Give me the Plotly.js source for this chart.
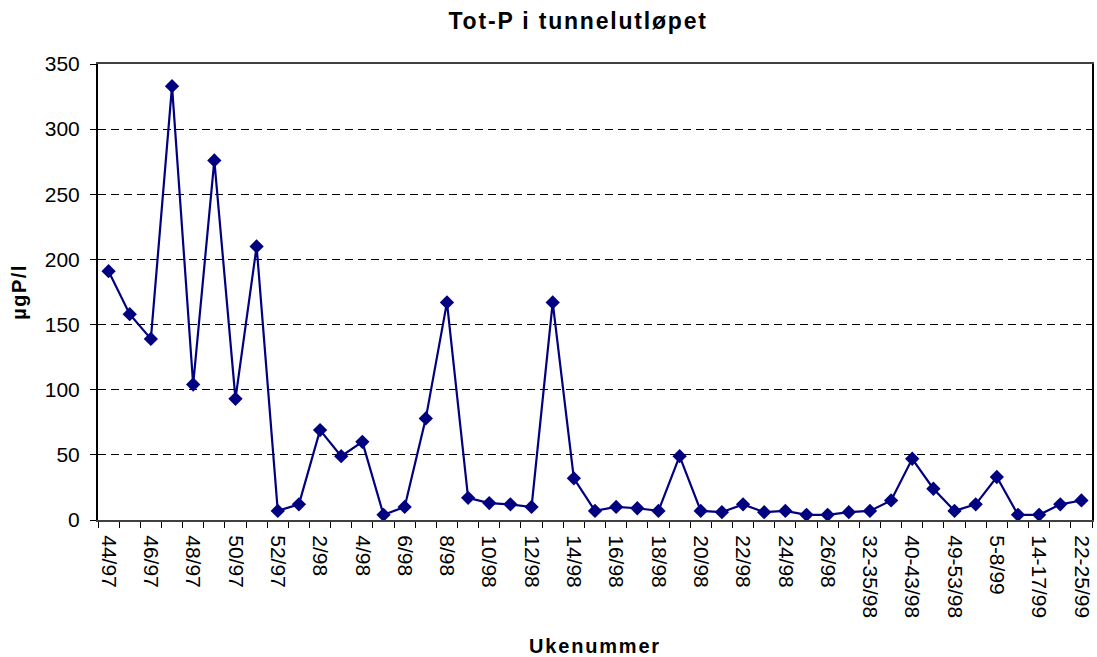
<!DOCTYPE html>
<html>
<head>
<meta charset="utf-8">
<script src="https://cdn.plot.ly/plotly-3.0.1.min.js"></script>
<style>
html,body{margin:0;padding:0;background:#fff;}
#chart{width:1097px;height:657px;}
.gtitle{letter-spacing:1.8px;}
.xtitle{letter-spacing:1.8px;}
.ytitle{letter-spacing:1.5px;}
</style>
</head>
<body>
<div id="chart"></div>
<script>
var weeks = ["44/97","45/97","46/97","47/97","48/97","49/97","50/97","51/97","52/97",
  "1/98","2/98","3/98","4/98","5/98","6/98","7/98","8/98","9/98","10/98","11/98","12/98",
  "13/98","14/98","15/98","16/98","17/98","18/98","19/98","20/98","21/98","22/98","23/98",
  "24/98","25/98","26/98","27-31/98","32-35/98","36-39/98","40-43/98","44-48/98","49-53/98",
  "1-4/99","5-8/99","9-13/99","14-17/99","18-21/99","22-25/99"];
var totP = [191,158,139,333,104,276,93,210,7,12,69,49,60,4,10,78,167,17,13,12,10,
  167,32,7,10,9,7,49,7,6,12,6,7,4,4,6,7,15,47,24,7,12,33,4,4,12,15];
var shownLabels = ["44/97","46/97","48/97","50/97","52/97","2/98","4/98","6/98","8/98",
  "10/98","12/98","14/98","16/98","18/98","20/98","22/98","24/98","26/98","32-35/98",
  "40-43/98","49-53/98","5-8/99","14-17/99","22-25/99"];
var yTicks = [0,50,100,150,200,250,300,350];

var tickText = weeks.map(function(w){ return shownLabels.indexOf(w) >= 0 ? w : ""; });

var trace = {
  x: weeks, y: totP, type: "scatter", mode: "lines+markers",
  line: {color: "#000080", width: 2.2},
  marker: {symbol: "diamond", size: 11, color: "#000080"},
  hoverinfo: "x+y"
};

var layout = {
  width: 1097, height: 657,
  margin: {l: 98, r: 5, t: 64, b: 137},
  paper_bgcolor: "#fff", plot_bgcolor: "#fff",
  font: {family: "Liberation Sans, Arial, sans-serif", size: 21, color: "#000"},
  showlegend: false,
  title: {text: "Tot-P i tunnelutløpet", font: {size: 23, family: "Liberation Sans, Arial, sans-serif", weight: "bold"},
    x: 0.483, xanchor: "center", xref: "paper", y: 0.968, yanchor: "middle"},
  xaxis: {
    type: "category", tickmode: "array", tickvals: weeks, ticktext: tickText,
    tickangle: 90, tickson: "boundaries", ticks: "outside", ticklen: 6, tickcolor: "#000",
    showline: true, linecolor: "#404040", linewidth: 2, mirror: true,
    showgrid: false, zeroline: false, range: [-0.5, weeks.length - 0.5],
    tickfont: {size: 21}, ticklabelstandoff: 9,
    title: {text: "Ukenummer", font: {size: 20, weight: "bold"}, standoff: 22}
  },
  yaxis: {
    range: [0, 350], tickmode: "array", tickvals: yTicks,
    ticks: "outside", ticklen: 6, tickcolor: "#000",
    showline: true, linecolor: "#000", linewidth: 2, mirror: true,
    showgrid: true, gridcolor: "#000", gridwidth: 1, griddash: "8px,5px",
    zeroline: false, tickfont: {size: 21}, ticklabelstandoff: 6,
    title: {text: "µgP/l", font: {size: 20, weight: "bold"}, standoff: 13}
  }
};

Plotly.newPlot("chart", [trace], layout, {staticPlot: true});
</script>
</body>
</html>
